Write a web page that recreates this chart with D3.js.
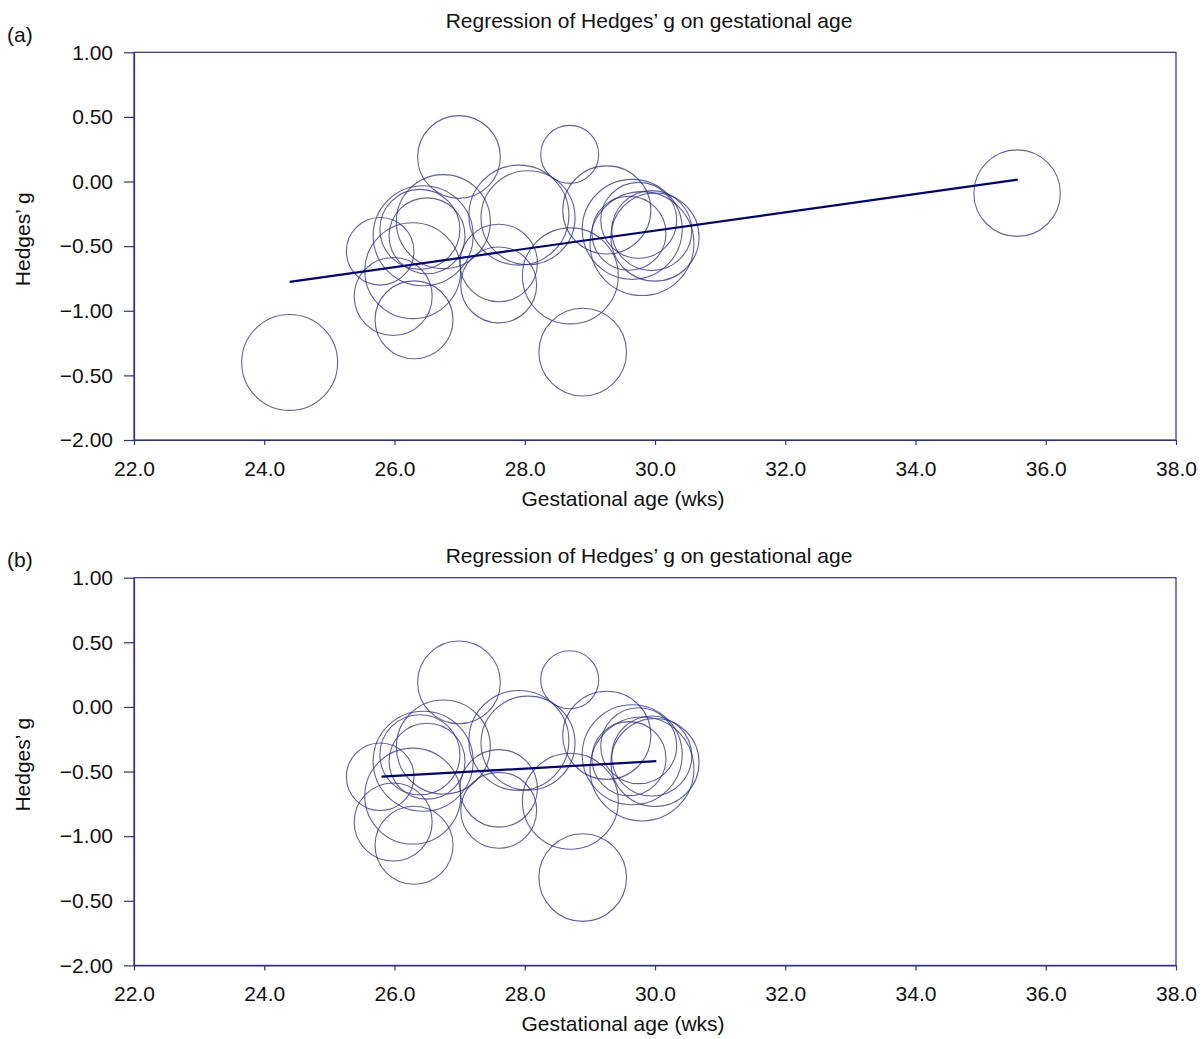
<!DOCTYPE html>
<html>
<head>
<meta charset="utf-8">
<script src="https://cdn.jsdelivr.net/npm/d3@7"></script>
<style>
  body { margin: 0; background: #fff; }
  text { font-family: "Liberation Sans", Arial, sans-serif; fill: #111; }
</style>
</head>
<body>
<div class="container"></div>
<script>
// data
var ages    = [24.39, 35.56, 25.78, 25.98, 26.30, 26.28, 26.44, 26.39, 26.50, 26.75, 26.99, 27.60, 27.60,
               27.91, 28.05, 28.69, 28.70, 28.89, 29.26, 29.65, 29.75, 29.95, 30.00, 29.60, 29.80];
var hedgesG = [-1.40, -0.09, -0.54, -0.89, -1.07, -0.69, -0.42, -0.37, -0.42, -0.31, 0.19, -0.63, -0.80,
               -0.26, -0.28, 0.21, -0.73, -1.32, -0.22, -0.37, -0.30, -0.38, -0.43, -0.40, -0.48];
var weights = [23.0, 18.7, 11.4, 15.2, 15.2, 23.0, 25.0, 16.0, 14.4, 22.1, 17.1, 15.0, 14.4,
               25.0, 22.1, 8.4, 23.0, 19.2, 19.4, 25.0, 14.4, 16.0, 19.4, 13.7, 27.0];
// the two outlying studies are left out of panel (b)
var inPanelB = [false, false, true, true, true, true, true, true, true, true, true, true, true,
                true, true, true, true, true, true, true, true, true, true, true, true];

var regA = { ages: [24.39, 35.57], g: [-0.777, 0.015] };
var regB = { ages: [25.80, 30.02], g: [-0.54, -0.42] };

var xTicks = [22, 24, 26, 28, 30, 32, 34, 36, 38];
var yTicks = [1, 0.5, 0, -0.5, -1, -1.5, -2];
var yTickLabels = ["1.00", "0.50", "0.00", "\u22120.50", "\u22121.00", "\u22120.50", "\u22122.00"];

var title = "Regression of Hedges\u2019 g on gestational age";

// canvas
var svg_w = 1203, svg_h = 1039;
var svg = d3.select(".container").append("svg")
            .attr("width", svg_w)
            .attr("height", svg_h);

var plotLeft = 134, plotRight = 1176, plotH = 387.7;
var axisColor = "#2e2e96";
var fs = "21px";

var x = d3.scaleLinear().domain([22, 38]).range([plotLeft, plotRight]);
var r = d3.scaleSqrt().domain([0, 25]).range([0, 50]);

function drawPanel(top, letter, titleY, reg, keep) {
  var y = d3.scaleLinear().domain([-2, 1]).range([top + plotH, top]);
  var g = svg.append("g");

  g.append("text").attr("x", 7).attr("y", top - 10.5)
   .style("font-size", fs).text(letter);
  g.append("text").attr("x", 649).attr("y", titleY)
   .attr("text-anchor", "middle").style("font-size", fs).text(title);

  // box
  g.append("rect")
   .attr("x", plotLeft).attr("y", top)
   .attr("width", plotRight - plotLeft).attr("height", plotH)
   .attr("fill", "none").attr("stroke", axisColor).attr("stroke-width", 1.2);

  var yAxis = d3.axisLeft(y).tickValues(yTicks)
                .tickFormat(function(d, i) { return yTickLabels[i]; })
                .tickSize(10).tickSizeOuter(0).tickPadding(11);
  var xAxis = d3.axisBottom(x).tickValues(xTicks)
                .tickFormat(d3.format(".1f"))
                .tickSize(5).tickSizeOuter(0).tickPadding(16);

  var ya = g.append("g").attr("transform", "translate(" + plotLeft + ",0)").call(yAxis);
  var xa = g.append("g").attr("transform", "translate(0," + (top + plotH) + ")").call(xAxis);
  [ya, xa].forEach(function(a) {
    a.select(".domain").attr("stroke", axisColor).attr("stroke-width", 1.2);
    a.selectAll(".tick line").attr("stroke", axisColor).attr("stroke-width", 1.2);
    a.selectAll(".tick text").style("font-size", fs)
     .style("font-family", "'Liberation Sans', Arial, sans-serif").attr("fill", "#111");
  });

  g.append("text").attr("x", 623).attr("y", top + plotH + 66)
   .attr("text-anchor", "middle").style("font-size", fs).text("Gestational age (wks)");
  g.append("text")
   .attr("transform", "translate(30," + (top + 187) + ") rotate(-90)")
   .attr("text-anchor", "middle").style("font-size", fs).text("Hedges\u2019 g");

  // study bubbles
  var idx = d3.range(ages.length).filter(function(i) { return keep(i); });
  g.append("g").selectAll("circle")
   .data(idx)
   .enter()
   .append("circle")
   .attr("cx", function(i) { return x(ages[i]); })
   .attr("cy", function(i) { return y(hedgesG[i]); })
   .attr("r", function(i) { return r(weights[i]); })
   .attr("fill", "none")
   .attr("stroke", "#2a2a90")
   .attr("stroke-opacity", 0.75)
   .attr("stroke-width", 1.1);

  // regression line
  var line = d3.line()
               .x(function(i) { return x(reg.ages[i]); })
               .y(function(i) { return y(reg.g[i]); });
  g.append("path")
   .attr("d", line(d3.range(reg.ages.length)))
   .attr("fill", "none")
   .attr("stroke", "#000080")
   .attr("stroke-width", 2.2);
}

drawPanel(52.3, "(a)", 28, regA, function(i) { return true; });
drawPanel(577.7, "(b)", 563, regB, function(i) { return inPanelB[i]; });
</script>
</body>
</html>
